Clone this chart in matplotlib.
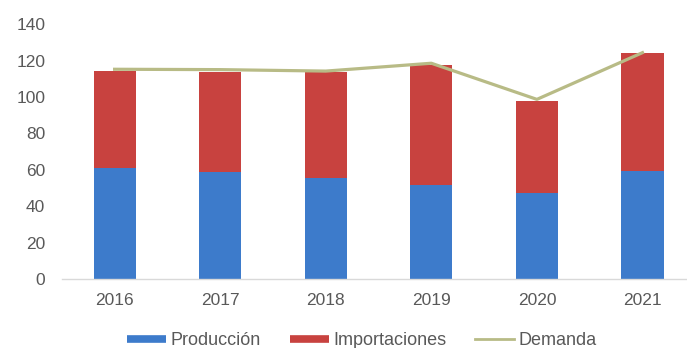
import matplotlib.pyplot as plt
from matplotlib.lines import Line2D
import numpy as np

plt.rcParams["font.family"] = ["Liberation Sans", "DejaVu Sans"]

# Producción, importaciones y demanda por año
years = ["2016", "2017", "2018", "2019", "2020", "2021"]
produccion = [61.3, 59.1, 55.8, 51.8, 47.6, 59.5]
importaciones = [53.1, 54.8, 58.1, 65.7, 50.2, 64.8]
demanda = [115.2, 115.0, 114.2, 118.5, 98.7, 124.3]

blue = "#3d7bcb"
red = "#c8423f"
olive = "#b8bb86"
text_color = "#595959"

x = np.arange(len(years))

fig = plt.figure(figsize=(6.87, 3.48), dpi=100)
ax = fig.add_axes([0.09, 0.197, 0.922, 0.734])

ax.bar(x, produccion, width=0.4, color=blue, zorder=2)
ax.bar(x, importaciones, width=0.4, bottom=produccion, color=red, zorder=2)
ax.plot(x, demanda, color=olive, linewidth=2.3, zorder=3)

ax.set_xlim(-0.5, 5.5)
ax.set_ylim(0, 140)
ax.set_yticks(range(0, 141, 20))
ax.set_xticks(x)
ax.set_xticklabels(years)

for side in ["top", "right", "left"]:
    ax.spines[side].set_visible(False)
ax.spines["bottom"].set_color("#d9d9d9")
ax.spines["bottom"].set_linewidth(1.0)

ax.tick_params(axis="both", length=0, labelsize=12.5, colors=text_color)
ax.tick_params(axis="y", pad=12)
ax.tick_params(axis="x", pad=10)

handles = [
    Line2D([0], [0], color=blue, linewidth=5.5, solid_capstyle="butt"),
    Line2D([0], [0], color=red, linewidth=5.5, solid_capstyle="butt"),
    Line2D([0], [0], color=olive, linewidth=2),
]
leg = fig.legend(handles, ["Producción", "Importaciones", "Demanda"],
                 loc="center", bbox_to_anchor=(0.527, 0.022), ncol=3,
                 frameon=False, fontsize=13, handlelength=2.15,
                 handletextpad=0.25, columnspacing=1.6)
for t in leg.get_texts():
    t.set_color(text_color)

fig.savefig("out.png", dpi=100, facecolor="white")
